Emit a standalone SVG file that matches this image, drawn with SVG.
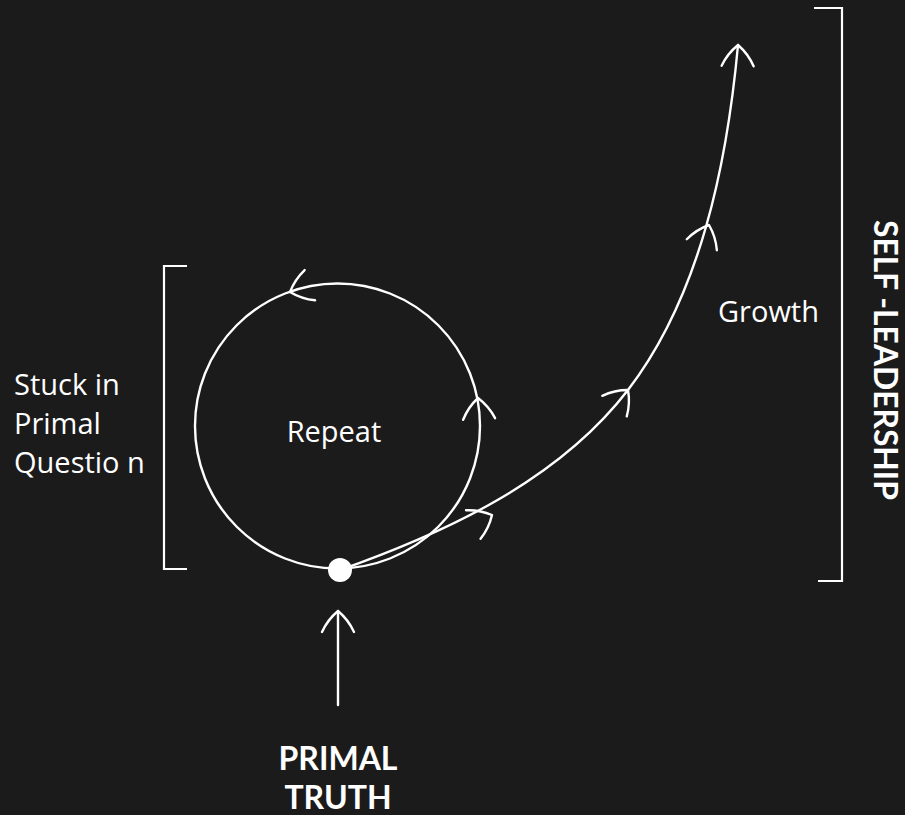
<svg xmlns="http://www.w3.org/2000/svg" width="905" height="815" viewBox="0 0 905 815">
<defs>
<style>
.ln{fill:none;stroke:#ffffff;stroke-width:2.4;stroke-linecap:round;stroke-linejoin:round}
.br{fill:none;stroke:#ffffff;stroke-width:2.2}
.lbl{fill:#ffffff;font-family:"Open Sans","Noto Sans",sans-serif;font-size:29px}
.bold{fill:#ffffff;font-family:"Lato","Noto Sans",sans-serif;font-weight:700;font-size:32px}
</style>
<path id="chev" d="M-21,-16 Q-8.7,-10.4 0,0 Q-8.7,10.4 -21,16" fill="none" stroke="#ffffff" stroke-width="2.4" stroke-linecap="round" stroke-linejoin="round"/>
</defs>
<rect width="905" height="815" fill="#1b1b1b"/>

<g id="connectors">
  <circle id="loop" class="ln" cx="337.5" cy="426" r="142.5"/>
  <use href="#chev" transform="translate(290,292) rotate(161)"/>
  <use href="#chev" transform="translate(478,398) rotate(-93)"/>
  <path id="growth-path" class="ln" d="M340,570 C445,533 558,481 628,390 C700,296 727,165 738,45"/>
  <use href="#chev" transform="translate(492,515) rotate(-27)"/>
  <use href="#chev" transform="translate(628,390) rotate(-50)"/>
  <use href="#chev" transform="translate(709,225) rotate(-70)"/>
  <use href="#chev" transform="translate(738,45) rotate(-89)"/>
  <line id="truth-arrow" class="ln" x1="338" y1="705" x2="338" y2="611"/>
  <use href="#chev" transform="translate(338,611) rotate(-90)"/>
</g>

<g id="primal-point">
  <circle cx="340" cy="570" r="12" fill="#ffffff"/>
</g>

<g id="repeat">
  <text class="lbl" x="334" y="442" text-anchor="middle">Repeat</text>
</g>

<g id="growth">
  <text class="lbl" x="718" y="322">Growth</text>
</g>

<g id="stuck">
  <path class="br" d="M187,266 H164 V569 H187"/>
  <text class="lbl" font-size="30"><tspan x="14" y="395">Stuck in</tspan><tspan x="14" y="434">Primal</tspan><tspan x="14" y="473">Questio n</tspan></text>
</g>

<g id="self-leadership">
  <path class="br" d="M814,8 H842 V581 H818"/>
  <text class="bold" font-size="30" transform="translate(874,360) rotate(90)" text-anchor="middle" textLength="280" lengthAdjust="spacingAndGlyphs">SELF -LEADERSHIP</text>
</g>

<g id="primal-truth">
  <text class="bold" x="338" y="770" text-anchor="middle">PRIMAL</text>
  <text class="bold" x="338" y="809" text-anchor="middle">TRUTH</text>
</g>
</svg>
